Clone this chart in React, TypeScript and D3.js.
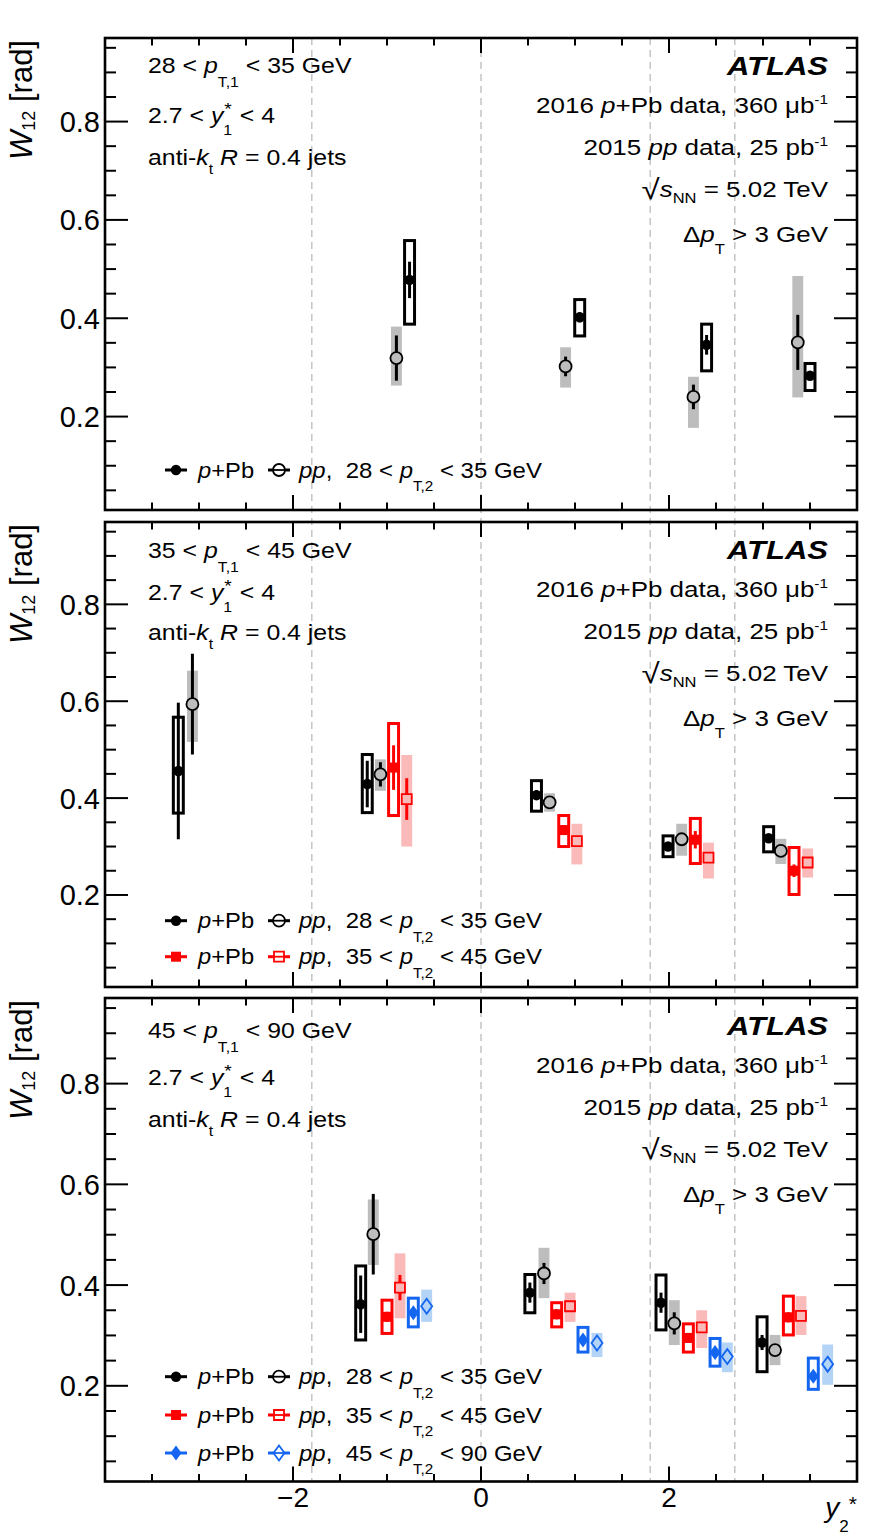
import React from 'react';
import * as d3 from 'd3';

const FONT = '"Liberation Sans", Arial, Helvetica, sans-serif';

// y2* boundaries drawn as dashed guides
const binEdges = [-1.8, 0, 1.8, 2.7];
const xMajorTicks = [-4, -2, 0, 2, 4];
const xTickLabels = [-2, 0, 2];
const yTickLabels = [0.2, 0.4, 0.6, 0.8];

// leading / subleading jet pT ranges [GeV]
const pt1Ranges = [[28, 35], [35, 45], [45, 90]];
const pt2Ranges = [[28, 35], [35, 45], [45, 90]];

// each point: [y2*, W12 (rad), stat, sys down, sys up]
type Pt = [number, number, number, number, number];

// 28 < pT,1 < 35 GeV
const p1PPb28: Pt[] = [
  [-0.76, 0.478, 0.037, 0.09, 0.08],
  [1.05, 0.402, 0.01, 0.038, 0.036],
  [2.4, 0.346, 0.02, 0.053, 0.042],
  [3.5, 0.283, 0.008, 0.03, 0.025],
];
const p1PP28: Pt[] = [
  [-0.9, 0.319, 0.046, 0.056, 0.064],
  [0.9, 0.302, 0.02, 0.043, 0.039],
  [2.26, 0.24, 0.025, 0.063, 0.041],
  [3.37, 0.351, 0.056, 0.112, 0.135],
];

// 35 < pT,1 < 45 GeV
const p2PPb28: Pt[] = [
  [-3.22, 0.456, 0.141, 0.087, 0.111],
  [-1.21, 0.429, 0.048, 0.059, 0.061],
  [0.59, 0.406, 0.01, 0.033, 0.03],
  [1.99, 0.3, 0.008, 0.021, 0.022],
  [3.06, 0.317, 0.008, 0.028, 0.024],
];
const p2PP28: Pt[] = [
  [-3.07, 0.594, 0.104, 0.078, 0.069],
  [-1.07, 0.449, 0.025, 0.034, 0.031],
  [0.73, 0.391, 0.006, 0.019, 0.019],
  [2.135, 0.315, 0.006, 0.034, 0.032],
  [3.19, 0.291, 0.006, 0.027, 0.025],
];
const p2PPb35: Pt[] = [
  [-0.93, 0.463, 0.046, 0.099, 0.091],
  [0.88, 0.334, 0.01, 0.034, 0.03],
  [2.28, 0.314, 0.018, 0.049, 0.044],
  [3.33, 0.25, 0.013, 0.049, 0.048],
];
const p2PP35: Pt[] = [
  [-0.79, 0.398, 0.043, 0.098, 0.091],
  [1.02, 0.311, 0.006, 0.048, 0.036],
  [2.42, 0.277, 0.006, 0.043, 0.031],
  [3.475, 0.267, 0.006, 0.031, 0.029],
];

// 45 < pT,1 < 90 GeV
const p3PPb28: Pt[] = [
  [-1.28, 0.362, 0.057, 0.071, 0.076],
  [0.52, 0.385, 0.02, 0.04, 0.036],
  [1.915, 0.365, 0.02, 0.054, 0.055],
  [2.99, 0.286, 0.015, 0.058, 0.051],
];
const p3PP28: Pt[] = [
  [-1.146, 0.501, 0.08, 0.061, 0.069],
  [0.67, 0.423, 0.021, 0.049, 0.051],
  [2.056, 0.324, 0.022, 0.043, 0.046],
  [3.128, 0.271, 0.01, 0.03, 0.03],
];
const p3PPb35: Pt[] = [
  [-1.0, 0.337, 0.01, 0.033, 0.033],
  [0.805, 0.342, 0.01, 0.025, 0.023],
  [2.206, 0.295, 0.01, 0.028, 0.028],
  [3.27, 0.336, 0.01, 0.035, 0.042],
];
const p3PP35: Pt[] = [
  [-0.862, 0.395, 0.025, 0.061, 0.068],
  [0.947, 0.358, 0.006, 0.031, 0.027],
  [2.348, 0.316, 0.006, 0.041, 0.034],
  [3.404, 0.339, 0.006, 0.038, 0.039],
];
const p3PPb45: Pt[] = [
  [-0.72, 0.345, 0.01, 0.028, 0.029],
  [1.085, 0.291, 0.01, 0.024, 0.025],
  [2.49, 0.266, 0.01, 0.027, 0.028],
  [3.535, 0.219, 0.01, 0.026, 0.036],
];
const p3PP45: Pt[] = [
  [-0.578, 0.358, 0.005, 0.031, 0.033],
  [1.234, 0.285, 0.005, 0.028, 0.02],
  [2.62, 0.258, 0.005, 0.031, 0.028],
  [3.688, 0.243, 0.005, 0.041, 0.039],
];

type Series = { pp: boolean; cls: number; pts: Pt[] };
const panelSeries: Series[][] = [
  [
    { pp: true, cls: 0, pts: p1PP28 },
    { pp: false, cls: 0, pts: p1PPb28 },
  ],
  [
    { pp: true, cls: 0, pts: p2PP28 },
    { pp: true, cls: 1, pts: p2PP35 },
    { pp: false, cls: 0, pts: p2PPb28 },
    { pp: false, cls: 1, pts: p2PPb35 },
  ],
  [
    { pp: true, cls: 0, pts: p3PP28 },
    { pp: true, cls: 1, pts: p3PP35 },
    { pp: true, cls: 2, pts: p3PP45 },
    { pp: false, cls: 0, pts: p3PPb28 },
    { pp: false, cls: 1, pts: p3PPb35 },
    { pp: false, cls: 2, pts: p3PPb45 },
  ],
];

const classStyle = [
  { color: '#000000', fill: '#bdbdbd', shape: 'circle' },
  { color: '#ff0000', fill: '#fbbaba', shape: 'square' },
  { color: '#1466f0', fill: '#b3d3f7', shape: 'diamond' },
];

// page layout
const LEFT = 105;
const RIGHT = 857;
const layout = [
  { top: 38, bottom: 510, leftBase: [73, 123, 165], legend: [470] },
  { top: 522, bottom: 987, leftBase: [558, 600, 640], legend: [920.7, 956.7] },
  { top: 998, bottom: 1481.5, leftBase: [1038, 1085, 1127], legend: [1376.7, 1415, 1453] },
];
const rightOffsets = [37, 75, 117, 159, 204];
const RIGHT_TEXT_X = 828;

type Seg = { t: string; i?: boolean; b?: boolean; s?: number; f?: number; dx?: number };

function Rich(props: {
  x: number; y: number; segs: Seg[]; size: number; anchor?: string; sx?: number; rotate?: number; fill?: string;
}) {
  const { x, y, segs, size, anchor = 'start', sx = 1, rotate = 0, fill = '#000' } = props;
  let prev = 0;
  return (
    <g transform={`translate(${x},${y}) rotate(${rotate}) scale(${sx},1)`}>
      <text x={0} y={0} fontSize={size} textAnchor={anchor} fill={fill} fontFamily={FONT} style={{ whiteSpace: 'pre' }}>
        {segs.map((g, k) => {
          const sh = g.s ?? 0;
          const dy = sh - prev;
          prev = sh;
          return (
            <tspan key={k} dy={dy} dx={g.dx ?? 0} fontStyle={g.i ? 'italic' : 'normal'} fontWeight={g.b ? 'bold' : 'normal'} fontSize={g.f ?? size}>
              {g.t}
            </tspan>
          );
        })}
      </text>
    </g>
  );
}

function markerPath(shape: string, open: boolean): string {
  if (shape === 'circle') return d3.symbol(d3.symbolCircle, Math.PI * (open ? 6 : 5.2) ** 2)() as string;
  if (shape === 'square') return d3.symbol(d3.symbolSquare, 100)() as string;
  return 'M0,-7.5L5.5,0L0,7.5L-5.5,0Z';
}
function markerHalf(shape: string, open: boolean): number {
  if (shape === 'circle') return open ? 6 : 5.2;
  if (shape === 'square') return 5;
  return 7.5;
}

const PPB_BOX_HALF = 0.053;
const PP_BOX_HALF = 0.058;

function Panel({ idx }: { idx: number }) {
  const L = layout[idx];
  const x = d3.scaleLinear().domain([-4, 4]).range([LEFT, RIGHT]);
  const y = d3.scaleLinear().domain([0.01, 0.97]).range([L.bottom, L.top]);
  const series = panelSeries[idx];
  const yMinor = d3.range(0.05, 0.96, 0.05);
  const xMinor = d3.range(-3.5, 3.51, 0.5);
  const [lo1, hi1] = pt1Ranges[idx];

  const leftLines: Seg[][] = [
    [{ t: `${lo1} < ` }, { t: 'p', i: true }, { t: 'T,1', f: 14, s: 14 }, { t: ` < ${hi1} GeV`, s: 0 }],
    [{ t: '2.7 < ' }, { t: 'y', i: true }, { t: '1', f: 14, s: 12 }, { t: '*', f: 17, s: -8, dx: -7 }, { t: ' < 4', s: 0, dx: 1 }],
    [{ t: 'anti-' }, { t: 'k', i: true }, { t: 't', f: 14, s: 9 }, { t: ' ', s: 0 }, { t: 'R', i: true }, { t: ' = 0.4 jets' }],
  ];
  const rightLines: Seg[][] = [
    [{ t: '2016 ' }, { t: 'p', i: true }, { t: '+Pb data, 360 μb' }, { t: '-1', f: 13, s: -9 }],
    [{ t: '2015 ' }, { t: 'pp', i: true }, { t: ' data, 25 pb' }, { t: '-1', f: 13, s: -9 }],
    [{ t: '√', f: 28, s: 2 }, { t: 's', i: true, s: 0 }, { t: 'NN', f: 14, s: 6 }, { t: ' = 5.02 TeV', s: 0 }],
    [{ t: 'Δ' }, { t: 'p', i: true }, { t: 'T', f: 14, s: 12 }, { t: ' > 3 GeV', s: 0 }],
  ];

  return (
    <g>
      {/* y-axis title */}
      <Rich x={32} y={L.top + 2} rotate={-90} anchor="end" size={31}
        segs={[{ t: 'W', i: true }, { t: '12', f: 18, s: 3 }, { t: ' [rad]', s: 0 }]} />

      {/* selection text */}
      {leftLines.map((segs, k) => (
        <Rich key={'l' + k} x={148} y={L.leftBase[k]} size={22} sx={1.13} segs={segs} />
      ))}
      <Rich x={RIGHT_TEXT_X} y={L.top + rightOffsets[0]} size={25} sx={1.24} anchor="end"
        segs={[{ t: 'ATLAS', b: true, i: true }]} />
      {rightLines.map((segs, k) => (
        <Rich key={'r' + k} x={RIGHT_TEXT_X} y={L.top + rightOffsets[k + 1]} size={22} sx={1.18} anchor="end" segs={segs} />
      ))}

      {/* systematic boxes */}
      {series.map((s, si) => {
        const st = classStyle[s.cls];
        return s.pts.map((p, k) => {
          const half = s.pp ? PP_BOX_HALF : PPB_BOX_HALF;
          const x0 = x(p[0] - half);
          const x1 = x(p[0] + half);
          const y0 = y(p[1] + p[4]);
          const y1 = y(p[1] - p[3]);
          return s.pp ? (
            <rect key={`b${si}-${k}`} x={x0} y={y0} width={x1 - x0} height={y1 - y0} fill={st.fill} />
          ) : (
            <rect key={`b${si}-${k}`} x={x0} y={y0} width={x1 - x0} height={y1 - y0} fill="none" stroke={st.color} strokeWidth={3} />
          );
        });
      })}

      {/* statistical bars and markers */}
      {series.map((s, si) => {
        const st = classStyle[s.cls];
        const hh = markerHalf(st.shape, s.pp);
        const path = markerPath(st.shape, s.pp);
        return s.pts.map((p, k) => {
          const cx = x(p[0]);
          const cy = y(p[1]);
          const yt = y(p[1] + p[2]);
          const yb = y(p[1] - p[2]);
          return (
            <g key={`m${si}-${k}`}>
              {s.pp ? (
                <>
                  {cy - yt > hh && <line x1={cx} x2={cx} y1={yt} y2={cy - hh} stroke={st.color} strokeWidth={3} />}
                  {yb - cy > hh && <line x1={cx} x2={cx} y1={cy + hh} y2={yb} stroke={st.color} strokeWidth={3} />}
                </>
              ) : (
                <line x1={cx} x2={cx} y1={yt} y2={yb} stroke={st.color} strokeWidth={3} />
              )}
              <path d={path} transform={`translate(${cx},${cy})`}
                fill={s.pp ? 'none' : st.color} stroke={st.color} strokeWidth={s.pp ? 1.8 : 0} />
            </g>
          );
        });
      })}

      {/* legend */}
      {L.legend.map((ly, k) => {
        const st = classStyle[k];
        const [lo2, hi2] = pt2Ranges[k];
        return (
          <g key={'lg' + k}>
            <line x1={165} x2={187} y1={ly} y2={ly} stroke={st.color} strokeWidth={3} />
            <path d={markerPath(st.shape, false)} transform={`translate(176,${ly})`} fill={st.color} />
            <Rich x={198} y={ly + 7.5} size={22} sx={1.08} segs={[{ t: 'p', i: true }, { t: '+Pb' }]} />
            <line x1={268} x2={290} y1={ly} y2={ly} stroke={st.color} strokeWidth={3} />
            <path d={markerPath(st.shape, true)} transform={`translate(279,${ly})`} fill="#fff" stroke={st.color} strokeWidth={1.8} />
            <line x1={273} x2={285} y1={ly} y2={ly} stroke={st.color} strokeWidth={1.8} />
            <Rich x={299} y={ly + 7.5} size={22} sx={1.09}
              segs={[{ t: 'pp', i: true }, { t: `,  ${lo2} < ` }, { t: 'p', i: true }, { t: 'T,2', f: 14, s: 14 }, { t: ` < ${hi2} GeV`, s: 0 }]} />
          </g>
        );
      })}

      {/* frame and ticks */}
      <rect x={LEFT} y={L.top} width={RIGHT - LEFT} height={L.bottom - L.top} fill="none" stroke="#000" strokeWidth={2.6} />
      {yMinor.map((v) => {
        const major = Math.abs(v * 5 - Math.round(v * 5)) < 1e-6;
        const len = major ? 23 : 11;
        return (
          <g key={'yt' + v}>
            <line x1={LEFT} x2={LEFT + len} y1={y(v)} y2={y(v)} stroke="#000" strokeWidth={2} />
            <line x1={RIGHT - len} x2={RIGHT} y1={y(v)} y2={y(v)} stroke="#000" strokeWidth={2} />
          </g>
        );
      })}
      {xMinor.map((v) => {
        const major = xMajorTicks.includes(v);
        const len = major ? 15 : 7.5;
        return (
          <g key={'xt' + v}>
            <line x1={x(v)} x2={x(v)} y1={L.top} y2={L.top + len} stroke="#000" strokeWidth={2} />
            <line x1={x(v)} x2={x(v)} y1={L.bottom - len} y2={L.bottom} stroke="#000" strokeWidth={2} />
          </g>
        );
      })}
      {yTickLabels.map((v) => (
        <text key={'yl' + v} x={100} y={y(v)} dy="0.36em" textAnchor="end" fontSize={29} fontFamily={FONT}>
          {d3.format('.1f')(v)}
        </text>
      ))}
      {idx === 2 && xTickLabels.map((v) => (
        <text key={'xl' + v} x={x(v)} y={1507} textAnchor="middle" fontSize={28} fontFamily={FONT}>
          {v < 0 ? '\u2212' + Math.abs(v) : String(v)}
        </text>
      ))}
    </g>
  );
}

export default function App() {
  const x = d3.scaleLinear().domain([-4, 4]).range([LEFT, RIGHT]);
  return (
    <svg width={875} height={1536} style={{ position: 'absolute', left: 0, top: 0, background: '#fff' }}>
      <rect width={875} height={1536} fill="#fff" />
      {binEdges.map((e) => (
        <line key={'d' + e} x1={x(e)} x2={x(e)} y1={layout[0].top} y2={layout[2].bottom}
          stroke="#c4c4c4" strokeWidth={1.5} strokeDasharray="7 5" />
      ))}
      {layout.map((_, i) => <Panel key={i} idx={i} />)}
      {/* x-axis title */}
      <Rich x={857} y={1517} size={28} anchor="end"
        segs={[{ t: 'y', i: true }, { t: '2', f: 17, s: 15 }, { t: '*', f: 21, s: -6 }]} />
    </svg>
  );
}
